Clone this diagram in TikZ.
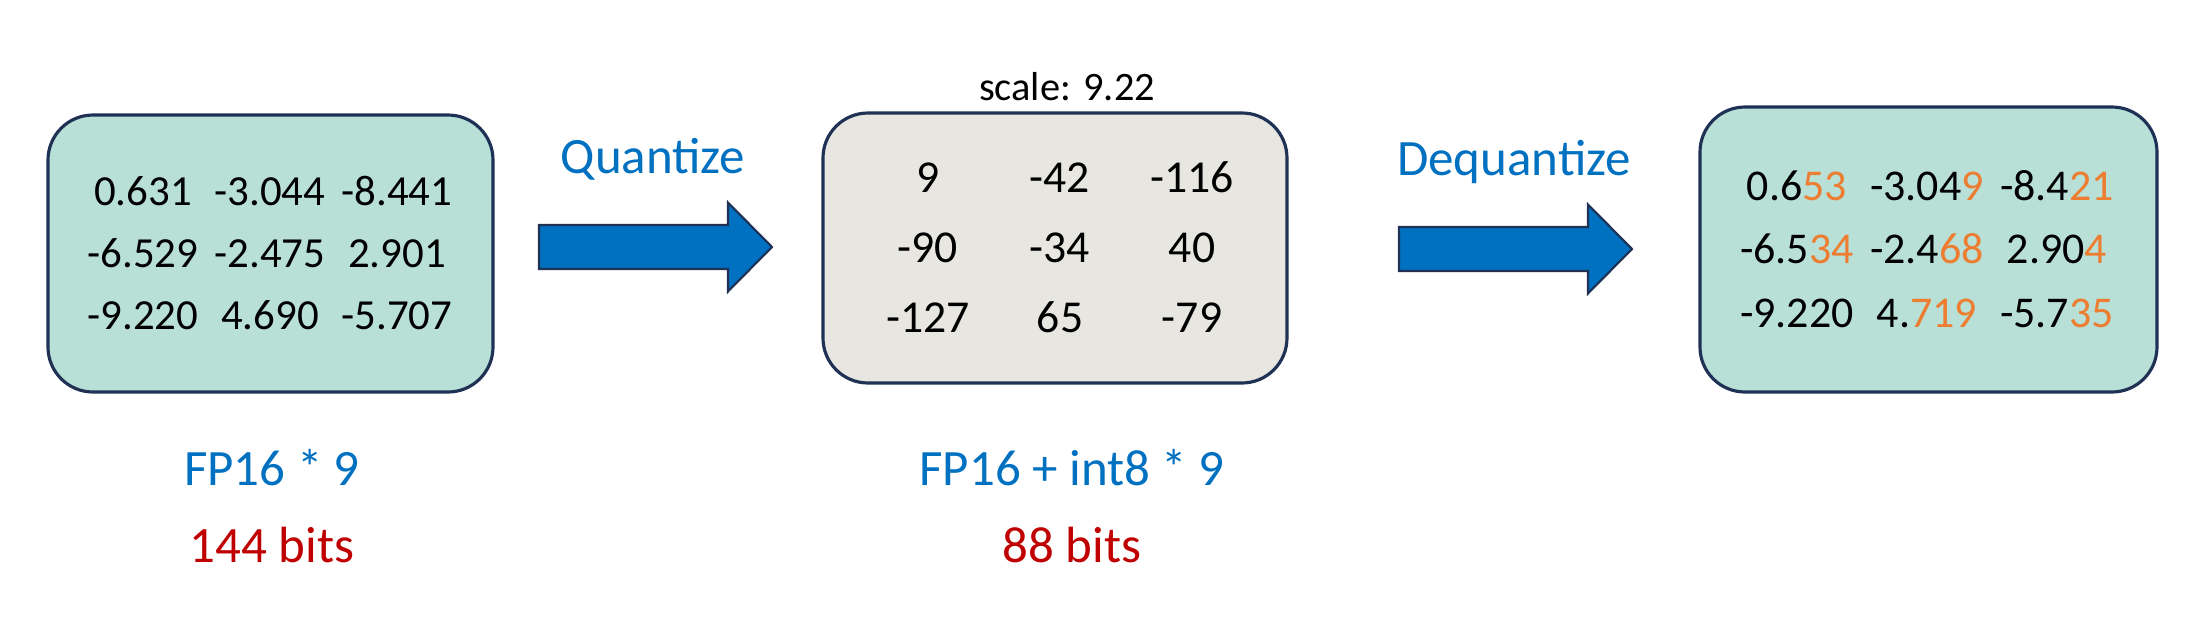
\documentclass[tikz,border=0pt]{standalone}
\usepackage{fontspec}
\setmainfont{Carlito}
\usetikzlibrary{positioning}
\definecolor{boxteal}{RGB}{185,224,214}
\definecolor{boxgray}{RGB}{231,230,225}
\definecolor{edgenavy}{RGB}{31,50,85}
\definecolor{arrowblue}{RGB}{0,112,192}
\definecolor{bitsred}{RGB}{192,0,0}
\definecolor{digitorange}{RGB}{237,125,49}
\newcommand{\chg}[1]{\textcolor{digitorange}{#1}}

\begin{document}
\begin{tikzpicture}[
    matbox/.style={draw=edgenavy, line width=0.9pt, rounded corners=0.45cm, inner sep=0pt},
    blockarrow/.style={draw=edgenavy, fill=arrowblue, line width=0.6pt, line join=miter},
    numtxt/.style={anchor=base, inner sep=0pt},
    steplabel/.style={anchor=base, inner sep=0pt, text=arrowblue, font=\fontsize{14.5}{17}\selectfont},
    costlabel/.style={anchor=base, inner sep=0pt, text=arrowblue, font=\fontsize{14.5}{17}\selectfont},
    bitslabel/.style={anchor=base, inner sep=0pt, text=bitsred, font=\fontsize{14.5}{17}\selectfont},
]
\useasboundingbox (0,0) rectangle (22.04,-6.26);

% === ORIGINAL FP16 MATRIX ===
\node[matbox, fill=boxteal, minimum width=4.45cm, minimum height=2.77cm] (orig) at (2.705,-2.535) {};
\foreach \row [count=\r] in {{0.631,-3.044,-8.441},{-6.529,-2.475,2.901},{-9.220,4.690,-5.707}} {
    \foreach \v [count=\c] in \row {
        \node[numtxt, font=\fontsize{12.2}{14}\selectfont] (o\r\c) at ({1.43+(\c-1)*1.27},{-2.05-(\r-1)*0.62}) {\v};
    }
}

% === INT8 MATRIX ===
\node[matbox, fill=boxgray, minimum width=4.64cm, minimum height=2.70cm] (quant) at (10.55,-2.48) {};
\node[numtxt, font=\fontsize{11.5}{14}\selectfont] (scale) at (10.67,-1.00) {scale: 9.22};
\foreach \row [count=\r] in {{9,-42,-116},{-90,-34,40},{-127,65,-79}} {
    \foreach \v [count=\c] in \row {
        \node[numtxt, font=\fontsize{13}{15}\selectfont] (q\r\c) at ({9.28+(\c-1)*1.32},{-1.92-(\r-1)*0.70}) {\v};
    }
}

% === DEQUANTIZED MATRIX ===
\node[matbox, fill=boxteal, minimum width=4.57cm, minimum height=2.85cm] (deq) at (19.285,-2.495) {};
\foreach \row [count=\r] in {{0.6\chg{53},-3.04\chg{9},-8.4\chg{21}},{-6.5\chg{34},-2.4\chg{68},2.90\chg{4}},{-9.220,4.\chg{719},-5.7\chg{35}}} {
    \foreach \v [count=\c] in \row {
        \node[numtxt, font=\fontsize{12.5}{14}\selectfont] (d\r\c) at ({17.97+(\c-1)*1.30},{-2.00-(\r-1)*0.635}) {\v};
    }
}

% === BLOCK ARROWS ===
\draw[blockarrow] (5.39,-2.25) -- ++(1.89,0) -- ++(0,0.225) -- ++(0.44,-0.445)
    -- ++(-0.44,-0.445) -- ++(0,0.225) -- ++(-1.89,0) -- cycle;
\node[steplabel] (qlabel) at (6.53,-1.73) {Quantize};

\draw[blockarrow] (13.99,-2.27) -- ++(1.89,0) -- ++(0,0.225) -- ++(0.44,-0.445)
    -- ++(-0.44,-0.445) -- ++(0,0.225) -- ++(-1.89,0) -- cycle;
\node[steplabel] (dlabel) at (15.14,-1.75) {Dequantize};

% === STORAGE COST ===
\node[costlabel] (cost1) at (2.72,-4.85) {FP16 * 9};
\node[bitslabel] (bits1) at (2.72,-5.62) {144 bits};
\node[costlabel] (cost2) at (10.72,-4.85) {FP16 + int8 * 9};
\node[bitslabel] (bits2) at (10.72,-5.62) {88 bits};

\end{tikzpicture}
\end{document}
